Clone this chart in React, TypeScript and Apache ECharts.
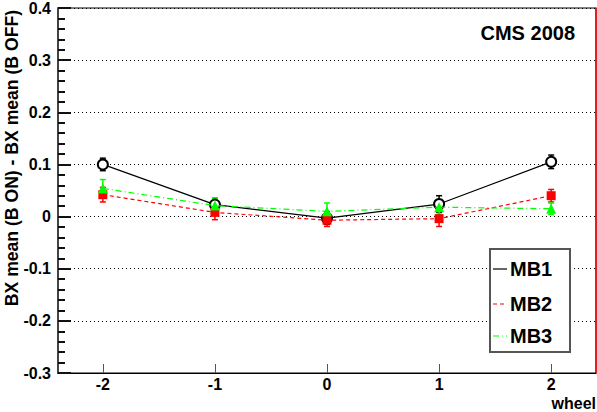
import React, { useEffect, useRef } from "react";
import * as echarts from "echarts";

const wheels = [-2, -1, 0, 1, 2];
const mb1 = [0.1, 0.023, -0.003, 0.024, 0.105];
const mb1Err = [0.012, 0.012, 0.012, 0.016, 0.013];
const mb2 = [0.042, 0.008, -0.007, -0.004, 0.04];
const mb2Err = [0.014, 0.014, 0.012, 0.015, 0.012];
const mb3 = [0.054, 0.021, 0.01, 0.018, 0.015];
const mb3Err = [0.017, 0.014, 0.016, 0.014, 0.011];
const xTicks = [-2, -1, 0, 1, 2];
const seriesNames = ["MB1", "MB2", "MB3"];

const FONT = "'Liberation Sans', Arial, Helvetica, sans-serif";

function pts(ys: number[], errs?: number[]) {
  return wheels.map((x, i) => (errs ? [x, ys[i], errs[i]] : [x, ys[i]]));
}

function errSeries(ys: number[], errs: number[], color: string) {
  return {
    type: "custom",
    data: pts(ys, errs),
    z: 2,
    silent: true,
    renderItem: (params: any, api: any) => {
      const x = api.value(0);
      const y = api.value(1);
      const e = api.value(2);
      const top = api.coord([x, y + e]);
      const bot = api.coord([x, y - e]);
      const st = { stroke: color, lineWidth: 1.5 };
      return {
        type: "group",
        children: [
          { type: "line", shape: { x1: top[0], y1: top[1], x2: bot[0], y2: bot[1] }, style: st },
          { type: "line", shape: { x1: top[0] - 3, y1: top[1], x2: top[0] + 3, y2: top[1] }, style: st },
          { type: "line", shape: { x1: bot[0] - 3, y1: bot[1], x2: bot[0] + 3, y2: bot[1] }, style: st },
        ],
      };
    },
  };
}

export default function App() {
  const ref = useRef<HTMLDivElement>(null);
  useEffect(() => {
    document.body.style.margin = "0";
    const chart = echarts.init(ref.current!, null, { renderer: "svg" });
    const legendTop = 249;
    const legendRows = [269, 304, 336];
    const legendStyles = [
      { color: "#000000", dash: null as any },
      { color: "#ff0000", dash: [4, 3] },
      { color: "#00ff00", dash: [6, 3, 1, 3] },
    ];
    chart.setOption({
      animation: false,
      backgroundColor: "#ffffff",
      textStyle: { fontFamily: FONT },
      title: {
        text: "CMS 2008",
        right: 17,
        top: 18,
        textStyle: { fontFamily: FONT, fontSize: 20, fontWeight: "bold", color: "#000" },
      },
      grid: {
        left: 58,
        right: 1,
        top: 7,
        bottom: 39,
        show: true,
        borderColor: "#000",
        borderWidth: 1,
        backgroundColor: "#fff",
      },
      xAxis: [
        {
          type: "value",
          min: -2.4,
          max: 2.4,
          axisLine: { show: true, onZero: false, lineStyle: { color: "#000", width: 1 } },
          axisTick: {
            show: true,
            inside: true,
            length: 9,
            customValues: xTicks,
            lineStyle: { color: "#555", width: 1 },
          },
          axisLabel: {
            customValues: xTicks,
            fontFamily: FONT,
            fontSize: 16,
            fontWeight: "bold",
            color: "#000",
            margin: 3,
          },
          splitLine: { show: false },
        },
      ],
      yAxis: [
        {
          type: "value",
          min: -0.3,
          max: 0.4,
          interval: 0.1,
          axisLine: { show: true, onZero: false, lineStyle: { color: "#444", width: 2 } },
          axisTick: { show: true, inside: true, length: 13, lineStyle: { color: "#111", width: 2 } },
          minorTick: { show: true, splitNumber: 5, length: 7, lineStyle: { color: "#111", width: 2 } },
          axisLabel: {
            fontFamily: FONT,
            fontSize: 16,
            fontWeight: "bold",
            color: "#000",
            margin: 7,
            formatter: (v: number) => (Math.abs(v) < 1e-9 ? "0" : String(Math.round(v * 10) / 10)),
          },
          splitLine: { show: true, lineStyle: { color: "#000", width: 1, type: [1, 3] } },
        },
        {
          type: "value",
          position: "right",
          min: -0.3,
          max: 0.4,
          interval: 0.1,
          axisLine: { show: true, onZero: false, lineStyle: { color: "#ff0000", width: 1.5 } },
          axisTick: { show: false },
          axisLabel: { show: false },
          splitLine: { show: false },
        },
      ],
      series: [
        errSeries(mb1, mb1Err, "#000000"),
        errSeries(mb2, mb2Err, "#ff0000"),
        errSeries(mb3, mb3Err, "#00ff00"),
        {
          name: seriesNames[0],
          type: "line",
          data: pts(mb1),
          z: 3,
          symbol: "emptyCircle",
          symbolSize: 10,
          lineStyle: { color: "#000", width: 1.2 },
          itemStyle: { color: "#000", borderColor: "#000", borderWidth: 1 },
        },
        {
          name: seriesNames[1],
          type: "line",
          data: pts(mb2),
          z: 4,
          symbol: "rect",
          symbolSize: 9,
          lineStyle: { color: "#ff0000", width: 1.2, type: [4, 3] },
          itemStyle: { color: "#ff0000" },
        },
        {
          name: seriesNames[2],
          type: "line",
          data: pts(mb3),
          z: 5,
          symbol: "triangle",
          symbolSize: 10,
          lineStyle: { color: "#00ff00", width: 1.2, type: [6, 3, 1, 3] },
          itemStyle: { color: "#00ff00" },
        },
      ],
      graphic: [
        {
          type: "text",
          x: 12,
          y: 10,
          rotation: Math.PI / 2,
          style: {
            text: "BX mean (B ON) - BX mean (B OFF)",
            fontFamily: FONT,
            fontSize: 17.6,
            fontWeight: "bold",
            fill: "#000",
            align: "right",
            verticalAlign: "middle",
          },
        },
        {
          type: "text",
          x: 596,
          y: 403,
          style: {
            text: "wheel",
            fontFamily: FONT,
            fontSize: 16,
            fontWeight: "bold",
            fill: "#000",
            align: "right",
            verticalAlign: "middle",
          },
        },
        {
          type: "rect",
          shape: { x: 490, y: legendTop, width: 80, height: 103 },
          style: { fill: "#fff", stroke: "#555", lineWidth: 2 },
          z: 100,
        },
        ...legendRows.flatMap((yy, i) => [
          {
            type: "line",
            shape: { x1: 493, y1: yy, x2: 507, y2: yy },
            style: {
              stroke: legendStyles[i].color,
              lineWidth: 1.2,
              lineDash: legendStyles[i].dash || undefined,
            },
            z: 101,
          },
          {
            type: "text",
            x: 510,
            y: yy,
            style: {
              text: seriesNames[i],
              fontFamily: FONT,
              fontSize: 20,
              fontWeight: "bold",
              fill: "#000",
              align: "left",
              verticalAlign: "middle",
            },
            z: 101,
          },
        ]),
      ],
    });
    return () => chart.dispose();
  }, []);
  return <div ref={ref} style={{ width: 597, height: 412 }} />;
}
